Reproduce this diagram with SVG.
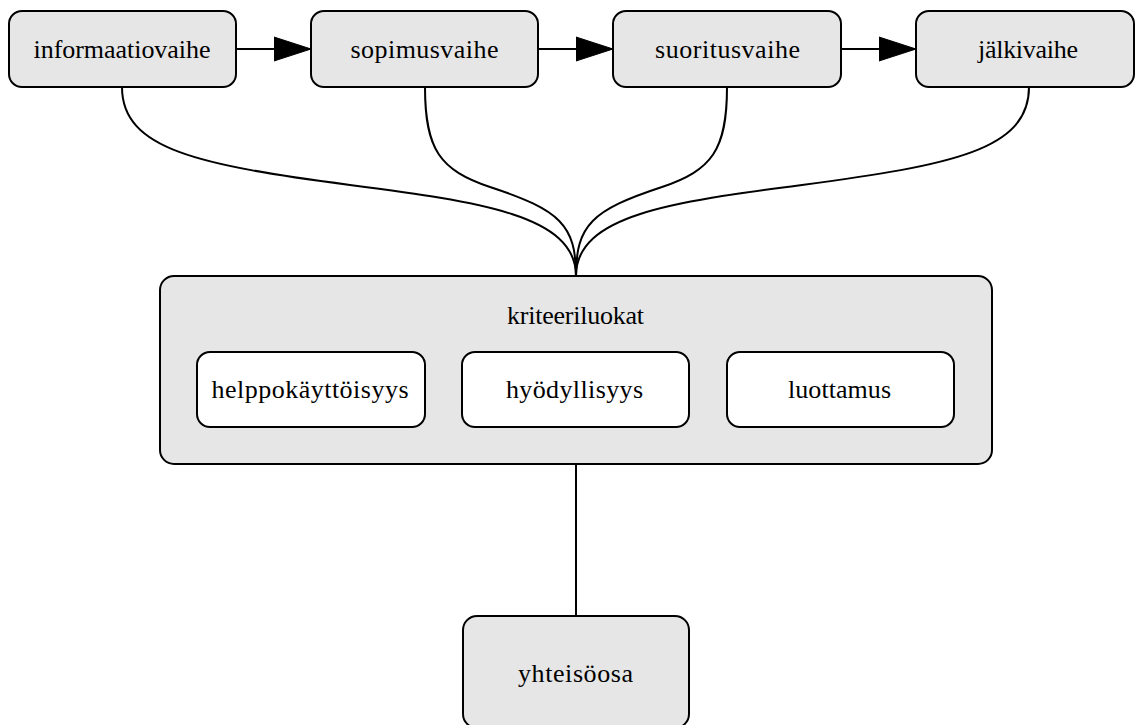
<svg xmlns="http://www.w3.org/2000/svg" width="1136" height="725" viewBox="0 0 1136 725">
<style>
.box{fill:#e6e6e6;stroke:#000;stroke-width:2}
.inner{fill:#fff;stroke:#000;stroke-width:2}
.t{font-family:"Liberation Serif","Times New Roman",serif;font-size:26px;fill:#000;text-anchor:middle}
.e{fill:none;stroke:#000;stroke-width:2}
</style>
<defs>
<marker id="ah" markerWidth="38" markerHeight="26" refX="37" refY="13" orient="auto" markerUnits="userSpaceOnUse">
<path d="M0,1 L37,13 L0,25 Z" fill="#000" stroke="#000" stroke-width="1"/>
</marker>
</defs>
<g id="connectors">
<path class="e" d="M237,49 L311,49" marker-end="url(#ah)"/>
<path class="e" d="M539,49 L613,49" marker-end="url(#ah)"/>
<path class="e" d="M842,49 L916,49" marker-end="url(#ah)"/>
<path class="e" d="M122,87 C122,150 200,165 350,185 C480,202 576,215 576,276"/>
<path class="e" d="M425,87 C425,150 440,170 490,187 C560,210 576,225 576,276"/>
<path class="e" d="M727,87 C727,150 712,170 662,187 C592,210 576,225 576,276"/>
<path class="e" d="M1029,87 C1029,150 952,165 802,185 C672,202 576,215 576,276"/>
<path class="e" d="M576,464 L576,616"/>
</g>
<g id="informaatiovaihe">
<rect class="box" x="9" y="11" width="227" height="76" rx="13"/>
<text class="t" x="122" y="58" textLength="177" lengthAdjust="spacing">informaatiovaihe</text>
</g>
<g id="sopimusvaihe">
<rect class="box" x="311" y="11" width="227" height="76" rx="13"/>
<text class="t" x="424.5" y="58" textLength="148" lengthAdjust="spacing">sopimusvaihe</text>
</g>
<g id="suoritusvaihe">
<rect class="box" x="613" y="11" width="228" height="76" rx="13"/>
<text class="t" x="727.5" y="58" textLength="145" lengthAdjust="spacing">suoritusvaihe</text>
</g>
<g id="jalkivaihe">
<rect class="box" x="916" y="11" width="218" height="76" rx="13"/>
<text class="t" x="1028" y="58" textLength="100" lengthAdjust="spacing">jälkivaihe</text>
</g>
<g id="kriteeriluokat">
<rect class="box" x="160" y="276" width="832" height="188" rx="14"/>
<text class="t" x="575.5" y="324" textLength="137" lengthAdjust="spacing">kriteeriluokat</text>
<g id="helppokayttoisyys">
<rect class="inner" x="197" y="352" width="228" height="75" rx="13"/>
<text class="t" x="310" y="398" textLength="197" lengthAdjust="spacing">helppokäyttöisyys</text>
</g>
<g id="hyodyllisyys">
<rect class="inner" x="462" y="352" width="227" height="75" rx="13"/>
<text class="t" x="574.5" y="398" textLength="137" lengthAdjust="spacing">hyödyllisyys</text>
</g>
<g id="luottamus">
<rect class="inner" x="727" y="352" width="227" height="75" rx="13"/>
<text class="t" x="839.5" y="398" textLength="103" lengthAdjust="spacing">luottamus</text>
</g>
</g>
<g id="yhteisoosa">
<rect class="box" x="463" y="616" width="226" height="112" rx="14"/>
<text class="t" x="575.5" y="682" textLength="115" lengthAdjust="spacing">yhteisöosa</text>
</g>
</svg>
